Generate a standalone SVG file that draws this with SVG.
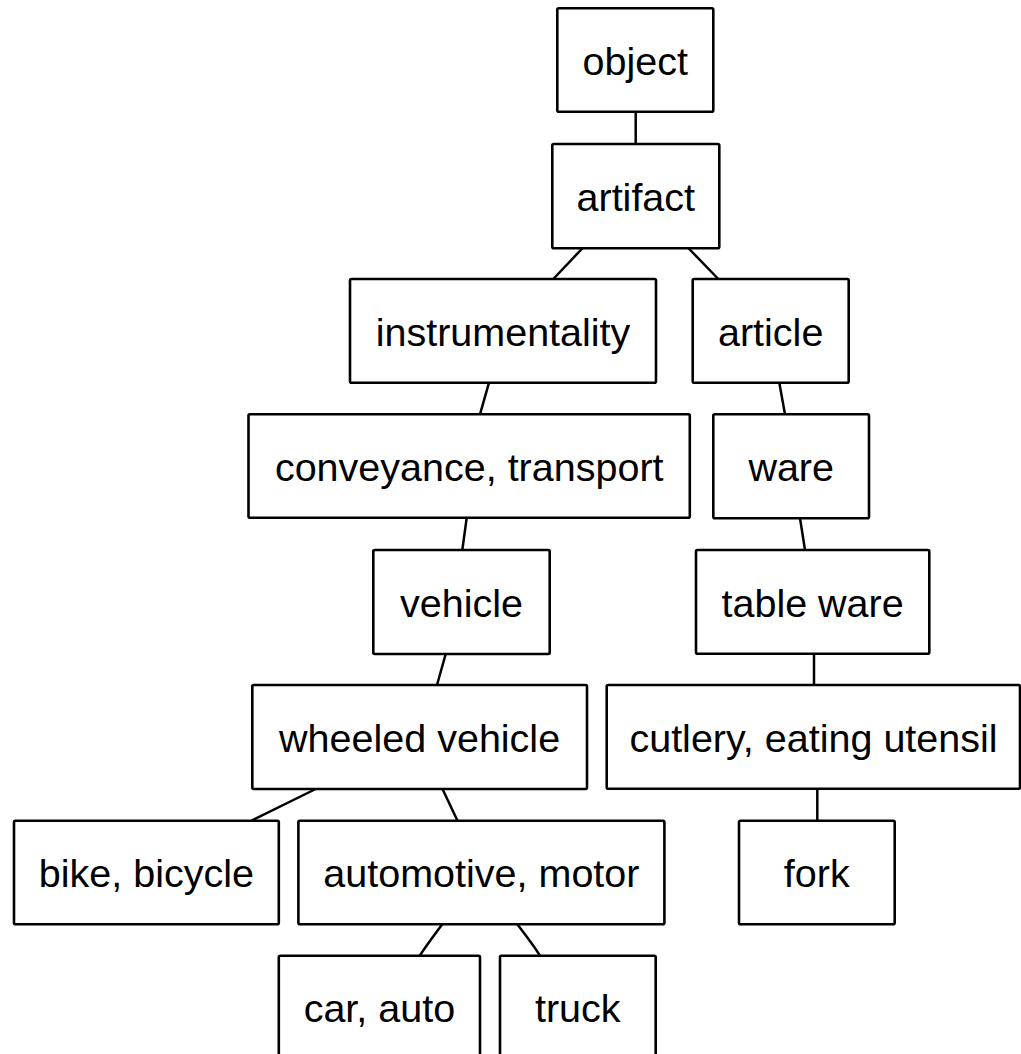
<svg xmlns="http://www.w3.org/2000/svg" width="1021" height="1054" viewBox="0 0 1021 1054">
<style>
.box{fill:#fff;stroke:#000;stroke-width:2.6}
.lbl{font-family:"Liberation Sans",Arial,sans-serif;font-size:39.5px;fill:#000;text-anchor:middle}
.edge{fill:none;stroke:#000;stroke-width:2.5}
</style>
<rect width="1021" height="1054" fill="#fff"/>
<g id="connectors">
<line class="edge" x1="635.7" y1="111.5" x2="635.7" y2="144"/>
<line class="edge" x1="582.7" y1="248" x2="553.3" y2="279"/>
<line class="edge" x1="688.3" y1="248" x2="718.3" y2="279"/>
<line class="edge" x1="489" y1="382.7" x2="480" y2="414.3"/>
<line class="edge" x1="779.3" y1="382.7" x2="785" y2="414.3"/>
<line class="edge" x1="466.7" y1="517.8" x2="462.3" y2="550"/>
<line class="edge" x1="800" y1="518.3" x2="805" y2="550"/>
<line class="edge" x1="445.7" y1="654" x2="437" y2="685"/>
<line class="edge" x1="814" y1="653.7" x2="814" y2="685"/>
<line class="edge" x1="315.7" y1="789" x2="251.5" y2="820.7"/>
<line class="edge" x1="442.5" y1="789" x2="457.5" y2="820.7"/>
<line class="edge" x1="817.3" y1="788.7" x2="817.3" y2="820.7"/>
<path class="edge" d="M442.3,924.3 Q426,946 419.8,955.7"/>
<path class="edge" d="M517.3,924.3 Q534,946 539.9,955.7"/>
</g>
<g id="n-object"><rect class="box" x="557.3" y="8.3" width="156" height="103.4" rx="1.5"/><text class="lbl" x="635.3" y="75">object</text></g>
<g id="n-artifact"><rect class="box" x="552.3" y="144" width="167" height="104.2" rx="1.5"/><text class="lbl" x="635.8" y="210.5">artifact</text></g>
<g id="n-instrumentality"><rect class="box" x="350" y="279" width="306" height="103.7" rx="1.5"/><text class="lbl" x="503" y="345.7">instrumentality</text></g>
<g id="n-article"><rect class="box" x="692.7" y="279" width="156" height="103.7" rx="1.5"/><text class="lbl" x="770.7" y="345.7">article</text></g>
<g id="n-conveyance"><rect class="box" x="248.5" y="414.3" width="441.3" height="103.5" rx="1.5"/><text class="lbl" x="469.2" y="481">conveyance, transport</text></g>
<g id="n-ware"><rect class="box" x="713.3" y="414.3" width="155.7" height="104" rx="1.5"/><text class="lbl" x="791.2" y="481">ware</text></g>
<g id="n-vehicle"><rect class="box" x="373.3" y="550" width="176.4" height="104" rx="1.5"/><text class="lbl" x="461.5" y="616.7">vehicle</text></g>
<g id="n-tableware"><rect class="box" x="696" y="550" width="233.3" height="103.7" rx="1.5"/><text class="lbl" x="812.6" y="616.7">table ware</text></g>
<g id="n-wheeled"><rect class="box" x="252.3" y="685" width="334.7" height="104" rx="1.5"/><text class="lbl" x="419.6" y="751.7">wheeled vehicle</text></g>
<g id="n-cutlery"><rect class="box" x="606.7" y="685" width="413.3" height="103.7" rx="1.5"/><text class="lbl" x="813.5" y="751.7">cutlery, eating utensil</text></g>
<g id="n-bike"><rect class="box" x="14" y="820.7" width="264.8" height="103.6" rx="1.5"/><text class="lbl" x="146.4" y="887.3">bike, bicycle</text></g>
<g id="n-automotive"><rect class="box" x="298.4" y="820.7" width="366" height="103.6" rx="1.5"/><text class="lbl" x="481.4" y="887.3">automotive, motor</text></g>
<g id="n-fork"><rect class="box" x="739" y="820.7" width="155.7" height="103.6" rx="1.5"/><text class="lbl" x="816.8" y="887.3">fork</text></g>
<g id="n-car"><rect class="box" x="278.8" y="955.7" width="201.2" height="110" rx="1.5"/><text class="lbl" x="379.4" y="1022.3">car, auto</text></g>
<g id="n-truck"><rect class="box" x="500" y="955.7" width="155.7" height="110" rx="1.5"/><text class="lbl" x="577.8" y="1022.3">truck</text></g>
</svg>
